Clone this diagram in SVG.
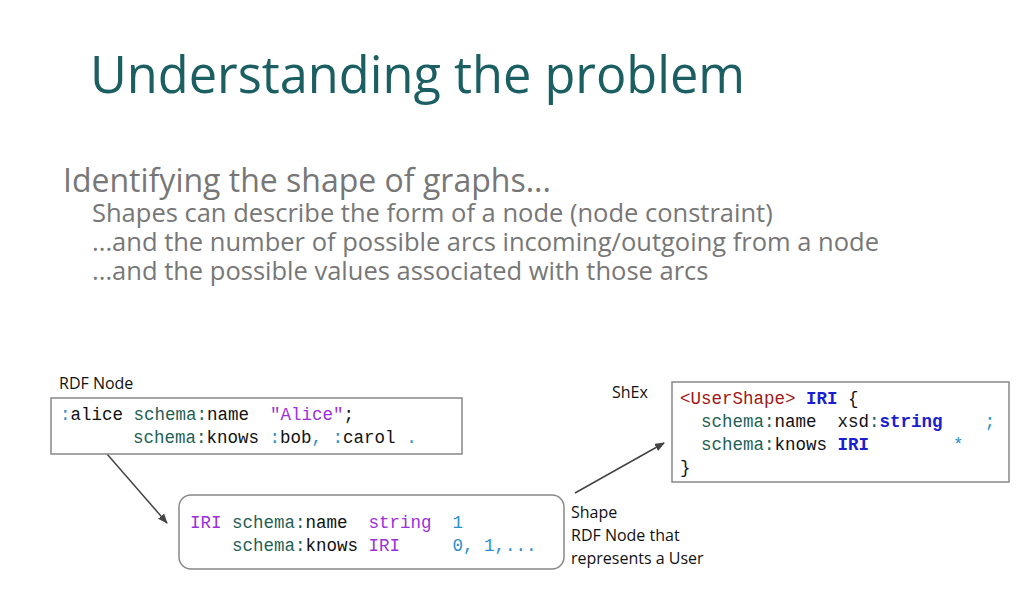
<svg xmlns="http://www.w3.org/2000/svg" width="1024" height="612" viewBox="0 0 1024 612">
<defs>
<style>
.t{font-family:"Open Sans","Noto Sans",sans-serif}
.m{font-family:"Liberation Mono","DejaVu Sans Mono",monospace;font-size:17.5px;fill:#111;white-space:pre}
.g{fill:#1f5f55}.p{fill:#9b30d9}.c{fill:#2a8fc8}.b{fill:#1a20d0;font-weight:bold}.r{fill:#a01818}
.box{fill:#fff;stroke:#888;stroke-width:1.5}
.lbl{font-family:"Open Sans","Noto Sans",sans-serif;font-size:16px;fill:#111}
</style>
<marker id="a" markerWidth="10" markerHeight="8" refX="9" refY="4" orient="auto" markerUnits="userSpaceOnUse"><path d="M0,0L10,4L0,8z" fill="#444"/></marker>
</defs>
<rect width="1024" height="612" fill="#fff"/>
<text class="t" x="90" y="93" font-size="50.5" fill="#1b5f63">Understanding the problem</text>
<g class="t" fill="#777">
<text x="63" y="192" font-size="32">Identifying the shape of graphs...</text>
<text x="92" y="222" font-size="25.5">Shapes can describe the form of a node (node constraint)</text>
<text x="92" y="251" font-size="25.5">...and the number of possible arcs incoming/outgoing from a node</text>
<text x="92" y="280" font-size="25.5">...and the possible values associated with those arcs</text>
</g>
<g id="connectors" stroke="#444" stroke-width="1.5" fill="none">
<line x1="107" y1="454" x2="167" y2="523" marker-end="url(#a)"/>
<line x1="575" y1="493" x2="664" y2="443" marker-end="url(#a)"/>
</g>
<g id="rdf">
<text class="lbl" x="59" y="389">RDF Node</text>
<rect class="box" x="51" y="398" width="411" height="56"/>
<text class="m" x="60" y="420" xml:space="preserve"><tspan class="c">:</tspan>alice <tspan class="g">schema:</tspan>name  <tspan class="p">"Alice"</tspan>;</text>
<text class="m" x="133" y="443" xml:space="preserve"><tspan class="g">schema:</tspan>knows <tspan class="c">:</tspan>bob<tspan class="c">,</tspan> <tspan class="c">:</tspan>carol <tspan class="c">.</tspan></text>
</g>
<g id="shape">
<rect class="box" x="179" y="495" width="385" height="74" rx="12"/>
<text class="m" x="190" y="528" xml:space="preserve"><tspan class="p">IRI</tspan> <tspan class="g">schema:</tspan>name  <tspan class="p">string</tspan>  <tspan class="c">1</tspan></text>
<text class="m" x="232" y="551" xml:space="preserve"><tspan class="g">schema:</tspan>knows <tspan class="p">IRI</tspan>     <tspan class="c">0, 1,...</tspan></text>
<text class="lbl" x="571" y="518">Shape</text>
<text class="lbl" x="571" y="541">RDF Node that</text>
<text class="lbl" x="571" y="564">represents a User</text>
</g>
<g id="shex">
<text class="lbl" x="612" y="398">ShEx</text>
<rect class="box" x="672" y="382" width="337" height="100"/>
<text class="m" x="680" y="404" xml:space="preserve"><tspan class="r">&lt;UserShape&gt;</tspan> <tspan class="b">IRI</tspan> {</text>
<text class="m" x="701" y="427" xml:space="preserve"><tspan class="g">schema:</tspan>name  xsd<tspan class="g">:</tspan><tspan class="b">string</tspan>    <tspan class="c">;</tspan></text>
<text class="m" x="701" y="450" xml:space="preserve"><tspan class="g">schema:</tspan>knows <tspan class="b">IRI</tspan>        <tspan class="c">*</tspan></text>
<text class="m" x="680" y="473">}</text>
</g>
</svg>
